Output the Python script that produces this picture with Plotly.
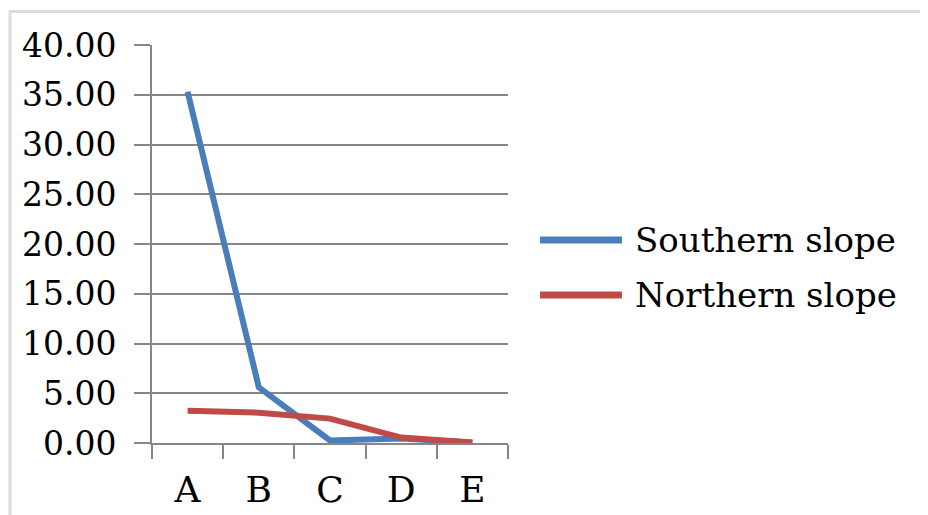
import plotly.graph_objects as go

categories = ["A", "B", "C", "D", "E"]
southern = [35.3, 5.6, 0.25, 0.45, 0.05]
northern = [3.25, 3.05, 2.45, 0.55, 0.05]
series_names = ["Southern slope", "Northern slope"]
series_colors = ["#4a7ebb", "#be4b48"]
y_ticks = [0, 5, 10, 15, 20, 25, 30, 35, 40]
y_tick_labels = ["%.2f" % v for v in y_ticks]

FONT = "DejaVu Serif"
GRID = "#878787"

fig = go.Figure()
for name, vals, col in zip(series_names, [southern, northern], series_colors):
    fig.add_trace(go.Scatter(x=categories, y=vals, mode="lines", name=name,
                             line=dict(color=col, width=6), showlegend=False))

# custom legend (long line samples like the original)
shapes = [dict(type="rect", xref="paper", yref="paper",
               x0=-0.399, x1=2.3, y0=-0.3, y1=1.084,
               line=dict(color="#dcdcdc", width=3), layer="below")]
annotations = []
leg_y = [0.510, 0.372]
for name, col, yy in zip(series_names, series_colors, leg_y):
    shapes.append(dict(type="line", xref="paper", yref="paper",
                       x0=1.090, x1=1.320, y0=yy, y1=yy,
                       line=dict(color=col, width=7)))
    annotations.append(dict(xref="paper", yref="paper", x=1.351, y=yy,
                            xanchor="left", yanchor="middle", text=name,
                            showarrow=False,
                            font=dict(family=FONT, size=34, color="black")))

fig.update_layout(
    width=920, height=507,
    margin=dict(l=144, r=420, t=37, b=72, autoexpand=False),
    paper_bgcolor="white", plot_bgcolor="white",
    font=dict(family=FONT, size=34, color="black"),
    showlegend=False,
    xaxis=dict(type="category", range=[-0.5, 4.5], tickson="boundaries",
               ticks="outside", ticklen=14, tickwidth=2, tickcolor=GRID,
               showgrid=False, showline=True, linecolor=GRID, linewidth=2,
               tickfont=dict(family=FONT, size=36), ticklabelstandoff=14,
               zeroline=False, automargin=False),
    yaxis=dict(range=[0, 40], tickvals=y_ticks, ticktext=y_tick_labels,
               ticks="outside", ticklen=16, tickwidth=2, tickcolor=GRID,
               showgrid=True, gridcolor=GRID, gridwidth=2,
               showline=True, linecolor=GRID, linewidth=2,
               zeroline=False, tickfont=dict(family=FONT, size=33),
               ticklabelstandoff=11, automargin=False),
    shapes=shapes,
    annotations=annotations,
)

fig.write_html("out.html")
